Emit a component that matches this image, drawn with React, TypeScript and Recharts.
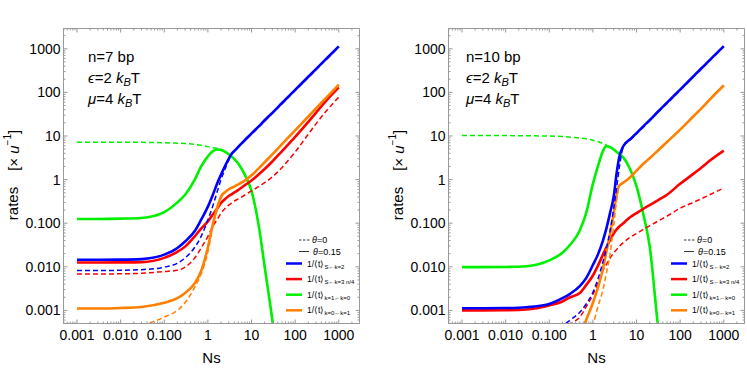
import React from "react";
import { LineChart, Line, XAxis, YAxis, Legend } from "recharts";

// Ns sample points shared by every curve
const ns = [
  0.001, 0.003, 0.01, 0.03, 0.1, 0.2, 0.3, 0.5, 0.7, 1, 1.3, 1.7, 2, 2.5, 3,
  3.5, 4, 5, 7, 10, 15, 20, 30, 50, 100, 200, 300, 500, 1000,
];

// n = 7 bp  (solid: theta = 0.15, dashed: theta = 0)
const n7BlueSolid = [0.0145, 0.0145, 0.0146, 0.015, 0.019, 0.027, 0.038, 0.066, 0.12, 0.24, 0.45, 0.9, 1.3, 2.1, 3.0, 3.9, 4.5, 5.7, 8.0, 11.5, 17, 23, 34, 57, 114, 228, 342, 570, 1140];
const n7BlueDashed = [0.0082, 0.0082, 0.0083, 0.0086, 0.0098, 0.012, 0.016, 0.028, 0.05, 0.12, 0.25, 0.6, 1.0, 1.8, 2.8, 3.8, 4.4, 5.5, 7.7, 11, 16.3, 22, 33, 55, 110, 220, 330, 550, 1100];
const n7RedSolid = [0.0125, 0.0125, 0.0126, 0.0128, 0.016, 0.022, 0.029, 0.05, 0.075, 0.11, 0.16, 0.23, 0.29, 0.36, 0.42, 0.46, 0.5, 0.58, 0.74, 0.95, 1.35, 1.75, 2.6, 4.5, 9.5, 21, 34, 62, 130];
const n7RedDashed = [0.0068, 0.0068, 0.0069, 0.0071, 0.0078, 0.0083, 0.0098, 0.016, 0.027, 0.05, 0.085, 0.13, 0.17, 0.22, 0.26, 0.29, 0.32, 0.36, 0.44, 0.55, 0.7, 0.85, 1.15, 1.9, 4.3, 11, 19, 36, 78];
const n7GreenSolid = [0.125, 0.125, 0.127, 0.132, 0.18, 0.3, 0.45, 1.0, 2.0, 3.4, 4.5, 4.9, 4.8, 4.3, 3.8, 3.4, 3.0, 2.3, 1.3, 0.55, 0.075, 0.01, 0.0006, 0.00001, null, null, null, null, null];
const n7GreenDashed = [7.2, 7.2, 7.2, 7.15, 7.0, 6.85, 6.7, 6.4, 6.1, 5.7, 5.4, 5.2, 4.9, 4.3, 3.8, 3.4, 3.0, 2.3, 1.3, 0.55, 0.075, 0.01, 0.0006, 0.00001, null, null, null, null, null];
const n7OrangeSolid = [0.0011, 0.0011, 0.00113, 0.0012, 0.0015, 0.0019, 0.0025, 0.0042, 0.008, 0.028, 0.095, 0.26, 0.41, 0.52, 0.6, 0.65, 0.69, 0.78, 0.95, 1.25, 1.85, 2.5, 3.8, 6.5, 13.5, 28, 43, 73, 150];
const n7OrangeDashed = [null, null, 0.00025, 0.00043, 0.0007, 0.001, 0.0015, 0.0034, 0.0068, 0.022, 0.085, 0.23, 0.38, 0.5, 0.6, 0.65, 0.69, 0.78, 0.95, 1.25, 1.85, 2.5, 3.8, 6.5, 13.5, 28, 43, 73, 150];

// n = 10 bp
const n10BlueSolid = [0.00112, 0.00112, 0.00113, 0.00118, 0.0014, 0.0019, 0.0024, 0.0036, 0.0055, 0.011, 0.019, 0.04, 0.07, 0.18, 0.41, 1.4, 3.2, 5.9, 8.3, 11.6, 17.4, 23, 35, 58, 116, 232, 348, 580, 1150];
const n10BlueDashed = [null, null, null, null, 0.00012, 0.00042, 0.0006, 0.0009, 0.0014, 0.0026, 0.0052, 0.013, 0.024, 0.07, 0.22, 0.65, 1.8, 5.6, 8.0, 11.2, 16.8, 22.3, 34, 56, 112, 225, 337, 562, 1115];
const n10RedSolid = [0.001, 0.001, 0.00101, 0.00105, 0.0013, 0.0016, 0.002, 0.0025, 0.0038, 0.0063, 0.0105, 0.019, 0.027, 0.042, 0.058, 0.072, 0.083, 0.1, 0.135, 0.17, 0.22, 0.26, 0.33, 0.45, 0.8, 1.35, 1.85, 2.8, 4.6];
const n10RedDashed = [null, null, null, null, null, 0.0002, 0.00045, 0.0007, 0.0012, 0.0023, 0.0042, 0.0083, 0.011, 0.016, 0.021, 0.025, 0.029, 0.036, 0.047, 0.058, 0.074, 0.087, 0.11, 0.145, 0.22, 0.3, 0.36, 0.46, 0.64];
const n10GreenSolid = [0.0098, 0.0098, 0.0099, 0.0103, 0.014, 0.021, 0.032, 0.068, 0.17, 0.8, 2.0, 4.5, 5.8, 5.5, 4.9, 4.3, 3.9, 3.2, 1.8, 0.7, 0.13, 0.03, 0.0006, 0.00001, null, null, null, null, null];
const n10GreenDashed = [10.2, 10.2, 10.2, 10.1, 10.0, 9.7, 9.4, 9.0, 8.6, 8.0, 7.5, 6.7, 6.2, 5.5, 4.9, 4.3, 3.9, 3.2, 1.8, 0.7, 0.13, 0.03, 0.0006, 0.00001, null, null, null, null, null];
const n10OrangeSolid = [null, null, null, null, null, null, null, 0.00025, 0.0006, 0.0015, 0.0033, 0.009, 0.02, 0.06, 0.17, 0.45, 0.72, 0.85, 1.1, 1.6, 2.4, 3.1, 4.5, 7.3, 14, 28, 42, 72, 145];
const n10OrangeDashed = [null, null, null, null, null, null, null, null, 0.00012, 0.00045, 0.0012, 0.003, 0.0065, 0.021, 0.09, 0.33, 0.7, 0.85, 1.1, 1.6, 2.4, 3.1, 4.5, 7.3, 14, 28, 42, 72, 145];

// axis ticks
const majorTicks = [0.001, 0.01, 0.1, 1, 10, 100, 1000];
const tickLabels = ["0.001", "0.010", "0.100", "1", "10", "100", "1000"];
const decades = [0.0001, 0.001, 0.01, 0.1, 1, 10, 100, 1000];
const steps = [1, 2, 3, 4, 5, 6, 7, 8, 9];

const X_DOMAIN: [number, number] = [0.00049, 2985];
const Y_DOMAIN: [number, number] = [0.0005, 2920];

const BLUE = "#0000ff";
const RED = "#ff0000";
const GREEN = "#00f000";
const ORANGE = "#ff8000";
const FRAME = "#999999";
const FONT = "'Liberation Sans', Arial, sans-serif";
const TM = 6;

const ticksIn = ([lo, hi]: [number, number]) =>
  decades
    .flatMap((d) => steps.map((k) => +(k * d).toPrecision(3)))
    .filter((v) => v >= lo && v <= hi);

const xTicks = ticksIn(X_DOMAIN);
const yTicks = ticksIn(Y_DOMAIN);

const majorIndex = (v: number) =>
  majorTicks.findIndex((m) => Math.abs(v / m - 1) < 1e-6);

const tickLen = (v: number) => (majorIndex(v) >= 0 ? 4 : 2);

const BottomTick = ({ x, y, payload }: any) => {
  const i = majorIndex(payload.value);
  const y0 = y - TM;
  return (
    <g>
      <line x1={x} x2={x} y1={y0} y2={y0 - tickLen(payload.value)} stroke={FRAME} />
      {i >= 0 && (
        <text x={x} y={y} dy="0.76em" textAnchor="middle" fontSize={14} fontFamily={FONT} fill="#000">
          {tickLabels[i]}
        </text>
      )}
    </g>
  );
};

const TopTick = ({ x, y, payload }: any) => (
  <line x1={x} x2={x} y1={y} y2={y + tickLen(payload.value)} stroke={FRAME} />
);

const LeftTick = ({ x, y, payload }: any) => {
  const i = majorIndex(payload.value);
  const x0 = x + 3;
  return (
    <g>
      <line x1={x0} x2={x0 + tickLen(payload.value)} y1={y} y2={y} stroke={FRAME} />
      {i >= 0 && (
        <text x={x} y={y} dy="0.36em" textAnchor="end" fontSize={14} fontFamily={FONT} fill="#000">
          {tickLabels[i]}
        </text>
      )}
    </g>
  );
};

const RightTick = ({ x, y, payload }: any) => (
  <line x1={x} x2={x - tickLen(payload.value)} y1={y} y2={y} stroke={FRAME} />
);

const XTitle = ({ viewBox }: any) => (
  <text x={viewBox.x + viewBox.width / 2} y={viewBox.y + 39} textAnchor="middle" fontSize={15} fontFamily={FONT} fill="#000">
    Ns
  </text>
);

const YTitle = ({ viewBox }: any) => {
  const cx = viewBox.x + 12;
  const cy = viewBox.y + viewBox.height / 2 - 1;
  return (
    <text transform={`translate(${cx},${cy}) rotate(-90)`} textAnchor="middle" dominantBaseline="central" fontSize={15} fontFamily={FONT} fill="#000">
      rates
      <tspan dx={16}>[× </tspan>
      <tspan fontStyle="italic">u</tspan>
      <tspan dy={-6} fontSize={10}>−1</tspan>
      <tspan dy={6}>]</tspan>
    </text>
  );
};

const legendRows = [
  { color: BLUE, sub: "S←k=2" },
  { color: RED, sub: "S←k=3 n/4" },
  { color: GREEN, sub: "k=1←k=0" },
  { color: ORANGE, sub: "k=0←k=1" },
];

const PanelLegend = () => (
  <svg width={84} height={86} style={{ display: "block", overflow: "visible" }} fontFamily={FONT}>
    <line x1={19} x2={30} y1={8} y2={8} stroke="#000" strokeWidth={0.8} strokeDasharray="2.5 1.5" />
    <text x={32} y={11} fontSize={9}>
      <tspan fontStyle="italic">θ</tspan>=0
    </text>
    <line x1={19} x2={29} y1={19.5} y2={19.5} stroke="#000" strokeWidth={0.8} />
    <text x={33} y={22.5} fontSize={9}>
      <tspan fontStyle="italic">θ</tspan>=0.15
    </text>
    {legendRows.map((r, i) => (
      <g key={r.sub}>
        <line x1={6} x2={22} y1={31.5 + i * 15.6} y2={31.5 + i * 15.6} stroke={r.color} strokeWidth={2.5} />
        <text x={27} y={34.5 + i * 15.6} fontSize={8.5}>
          1/⟨t⟩
          <tspan fontSize={6} dy={2}>{r.sub}</tspan>
        </text>
      </g>
    ))}
  </svg>
);

const SERIES = [
  { key: "greenDashed", color: GREEN, dashed: true },
  { key: "greenSolid", color: GREEN, dashed: false },
  { key: "redDashed", color: RED, dashed: true },
  { key: "redSolid", color: RED, dashed: false },
  { key: "orangeDashed", color: ORANGE, dashed: true },
  { key: "orangeSolid", color: ORANGE, dashed: false },
  { key: "blueSolid", color: BLUE, dashed: false },
  { key: "blueDashed", color: BLUE, dashed: true },
];

const n7Data = ns.map((x, i) => ({
  ns: x,
  blueSolid: n7BlueSolid[i],
  blueDashed: n7BlueDashed[i],
  redSolid: n7RedSolid[i],
  redDashed: n7RedDashed[i],
  greenSolid: n7GreenSolid[i],
  greenDashed: n7GreenDashed[i],
  orangeSolid: n7OrangeSolid[i],
  orangeDashed: n7OrangeDashed[i],
}));

const n10Data = ns.map((x, i) => ({
  ns: x,
  blueSolid: n10BlueSolid[i],
  blueDashed: n10BlueDashed[i],
  redSolid: n10RedSolid[i],
  redDashed: n10RedDashed[i],
  greenSolid: n10GreenSolid[i],
  greenDashed: n10GreenDashed[i],
  orangeSolid: n10OrangeSolid[i],
  orangeDashed: n10OrangeDashed[i],
}));

const noteStyle: React.CSSProperties = {
  position: "absolute",
  top: 46,
  fontFamily: FONT,
  fontSize: 15,
  lineHeight: "21px",
  color: "#000",
  whiteSpace: "nowrap",
};
const subStyle: React.CSSProperties = { fontSize: 11, verticalAlign: "-3px", lineHeight: 0, fontStyle: "italic" };

const Notes = ({ n, left }: { n: number; left: number }) => (
  <div style={{ ...noteStyle, left }}>
    <div>n={n} bp</div>
    <div>
      <i>ϵ</i>=2 <i>k</i>
      <span style={subStyle}>B</span>T
    </div>
    <div>
      <i>μ</i>=4 <i>k</i>
      <span style={subStyle}>B</span>T
    </div>
  </div>
);

// half-pixel margins put the 1px frame lines on pixel centres
const Panel = ({ data }: { data: any[] }) => (
  <LineChart width={362} height={390} data={data} margin={{ top: 27.5, right: 1.5, bottom: 16.5, left: 0.5 }}>
    <XAxis
      dataKey="ns"
      type="number"
      scale="log"
      domain={X_DOMAIN}
      allowDataOverflow
      ticks={xTicks}
      interval={0}
      height={50}
      tickSize={0}
      tickMargin={TM}
      tickLine={false}
      axisLine={{ stroke: FRAME, strokeWidth: 1 }}
      tick={<BottomTick />}
      label={(p: any) => <XTitle {...p} />}
    />
    <XAxis
      xAxisId="top"
      orientation="top"
      dataKey="ns"
      type="number"
      scale="log"
      domain={X_DOMAIN}
      allowDataOverflow
      ticks={xTicks}
      interval={0}
      height={1}
      tickSize={0}
      tickMargin={0}
      tickLine={false}
      axisLine={{ stroke: FRAME, strokeWidth: 1 }}
      tick={<TopTick />}
    />
    <YAxis
      type="number"
      scale="log"
      domain={Y_DOMAIN}
      allowDataOverflow
      ticks={yTicks}
      interval={0}
      width={63}
      tickSize={0}
      tickMargin={3}
      tickLine={false}
      axisLine={{ stroke: FRAME, strokeWidth: 1 }}
      tick={<LeftTick />}
      label={(p: any) => <YTitle {...p} />}
    />
    <YAxis
      yAxisId="right"
      orientation="right"
      type="number"
      scale="log"
      domain={Y_DOMAIN}
      allowDataOverflow
      ticks={yTicks}
      interval={0}
      width={1}
      tickSize={0}
      tickMargin={0}
      tickLine={false}
      axisLine={{ stroke: FRAME, strokeWidth: 1 }}
      tick={<RightTick />}
    />
    {SERIES.map((s) => (
      <Line
        key={s.key}
        dataKey={s.key}
        type="monotone"
        stroke={s.color}
        strokeWidth={s.dashed ? 1.5 : 2.6}
        strokeDasharray={s.dashed ? "5 3" : undefined}
        dot={false}
        activeDot={false}
        connectNulls={false}
        isAnimationActive={false}
      />
    ))}
    <Legend
      layout="vertical"
      align="center"
      verticalAlign="middle"
      content={() => <PanelLegend />}
      wrapperStyle={{ left: 280, top: 232, width: 84, height: 86 }}
    />
  </LineChart>
);

export default function App() {
  return (
    <div style={{ position: "absolute", left: 0, top: 0, width: 747, height: 390, background: "#fff" }}>
      <div style={{ position: "absolute", left: 0, top: 0 }}>
        <Panel data={n7Data} />
      </div>
      <div style={{ position: "absolute", left: 385, top: 0 }}>
        <Panel data={n10Data} />
      </div>
      <Notes n={7} left={88} />
      <Notes n={10} left={466} />
    </div>
  );
}
